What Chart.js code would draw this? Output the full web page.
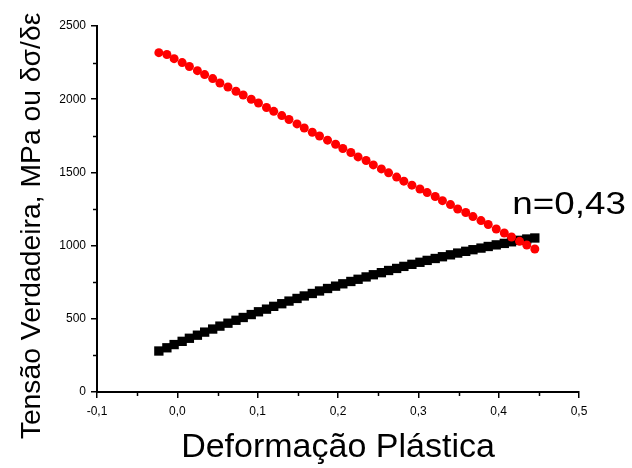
<!DOCTYPE html>
<html>
<head>
<meta charset="utf-8">
<script src="https://cdn.jsdelivr.net/npm/chart.js@4/dist/chart.umd.min.js"></script>
<style>
html,body{margin:0;padding:0;background:#fff;}
#wrap{width:632px;height:468px;}
</style>
</head>
<body>
<div id="wrap"><canvas id="c" width="632" height="468"></canvas></div>
<script>
// Plastic strain (x)
const strain = [-0.023,-0.013,-0.004,0.006,0.015,0.025,0.034,0.044,0.053,0.063,
  0.073,0.082,0.092,0.101,0.111,0.120,0.130,0.139,0.149,0.158,
  0.168,0.177,0.187,0.197,0.206,0.216,0.225,0.235,0.244,0.254,
  0.263,0.273,0.282,0.292,0.302,0.311,0.321,0.330,0.340,0.349,
  0.359,0.368,0.378,0.387,0.397,0.407,0.416,0.426,0.435,0.445];
// True stress, MPa (black squares)
const trueStress = [280,302,324,346,367,388,409,430,450,470,
  490,509,529,548,566,585,603,621,639,656,
  673,690,707,723,739,755,770,786,801,815,
  830,844,858,872,886,899,912,924,937,949,
  961,972,983,994,1005,1015,1026,1036,1045,1052];
// Work-hardening rate dσ/dε (red circles)
const hardeningRate = [2318,2305,2277,2250,2223,2195,2168,2141,2111,2083,
  2054,2029,2000,1974,1943,1917,1888,1861,1831,1803,
  1774,1749,1720,1692,1663,1636,1606,1581,1551,1524,
  1497,1468,1440,1413,1387,1362,1335,1307,1280,1250,
  1226,1198,1171,1144,1113,1086,1059,1029,1004,977];
const xMinorTicks = [-0.05,0.05,0.15,0.25,0.35,0.45];
const yMinorTicks = [250,750,1250,1750,2250];
const xTitle = 'Deformação Plástica';
const yTitle = 'Tensão Verdadeira, MPa ou δσ/δε';
const annotationText = 'n=0,43';
const annotationAt = {x: 0.417, y: 1219};

const FONT = '"Liberation Sans", Arial, sans-serif';

const extras = {
  id: 'extras',
  afterDraw(chart) {
    const ctx = chart.ctx, xs = chart.scales.x, ys = chart.scales.y;
    ctx.save();
    ctx.strokeStyle = '#000';
    ctx.lineWidth = 1.5;
    for (const v of xMinorTicks) {
      const px = Math.round(xs.getPixelForValue(v)) + 0.5;
      ctx.beginPath(); ctx.moveTo(px, ys.bottom); ctx.lineTo(px, ys.bottom + 4); ctx.stroke();
    }
    for (const v of yMinorTicks) {
      const py = Math.round(ys.getPixelForValue(v)) + 0.5;
      ctx.beginPath(); ctx.moveTo(xs.left, py); ctx.lineTo(xs.left - 4, py); ctx.stroke();
    }
    // y-axis title
    ctx.fillStyle = '#000';
    ctx.save();
    ctx.translate(40, 226);
    ctx.rotate(-Math.PI / 2);
    ctx.font = '28.3px ' + FONT;
    ctx.textAlign = 'center';
    ctx.textBaseline = 'alphabetic';
    ctx.fillText(yTitle, 0, 0);
    ctx.restore();
    // annotation
    ctx.save();
    ctx.translate(xs.getPixelForValue(annotationAt.x), ys.getPixelForValue(annotationAt.y));
    ctx.scale(1.15, 1);
    ctx.font = '32px ' + FONT;
    ctx.textAlign = 'left';
    ctx.textBaseline = 'alphabetic';
    ctx.fillText(annotationText, 0, 0);
    ctx.restore();
    ctx.restore();
  }
};

new Chart(document.getElementById('c'), {
  type: 'scatter',
  data: {
    datasets: [
      {
        label: 'dσ/dε',
        data: strain.map((x, i) => ({x, y: hardeningRate[i]})),
        pointStyle: 'circle',
        pointRadius: 4.5,
        pointBorderWidth: 0,
        backgroundColor: '#ff0000',
        borderColor: '#ff0000',
        showLine: false,
        order: 0
      },
      {
        label: 'σ',
        data: strain.map((x, i) => ({x, y: trueStress[i]})),
        pointStyle: 'rect',
        pointRadius: 6.6,
        pointBorderWidth: 0,
        backgroundColor: '#000000',
        borderColor: '#000000',
        showLine: false,
        order: 1
      }
    ]
  },
  options: {
    responsive: false,
    animation: false,
    devicePixelRatio: 1,
    layout: {padding: {left: 0, right: 53, top: 26, bottom: 0}},
    plugins: {legend: {display: false}, tooltip: {enabled: false}},
    scales: {
      x: {
        type: 'linear',
        min: -0.1, max: 0.5,
        afterFit: s => { s.height = 76; },
        border: {display: true, color: '#000', width: 2},
        grid: {display: true, drawOnChartArea: false, drawTicks: true, tickLength: 6, color: '#000', lineWidth: 1.5},
        ticks: {
          stepSize: 0.1,
          color: '#000',
          padding: 6,
          maxRotation: 0,
          font: {family: FONT, size: 12},
          callback: v => (Math.round(v * 10) / 10).toFixed(1).replace('.', ',')
        },
        title: {display: true, text: xTitle, color: '#000', font: {family: FONT, size: 34}, padding: {top: 2, bottom: 0}}
      },
      y: {
        type: 'linear',
        min: 0, max: 2500,
        afterFit: s => { s.width = 97; },
        border: {display: true, color: '#000', width: 2},
        grid: {display: true, drawOnChartArea: false, drawTicks: true, tickLength: 6, color: '#000', lineWidth: 1.5},
        ticks: {
          stepSize: 500,
          color: '#000',
          padding: 5,
          font: {family: FONT, size: 12},
          callback: v => String(v)
        }
      }
    }
  },
  plugins: [extras]
});
</script>
</body>
</html>
